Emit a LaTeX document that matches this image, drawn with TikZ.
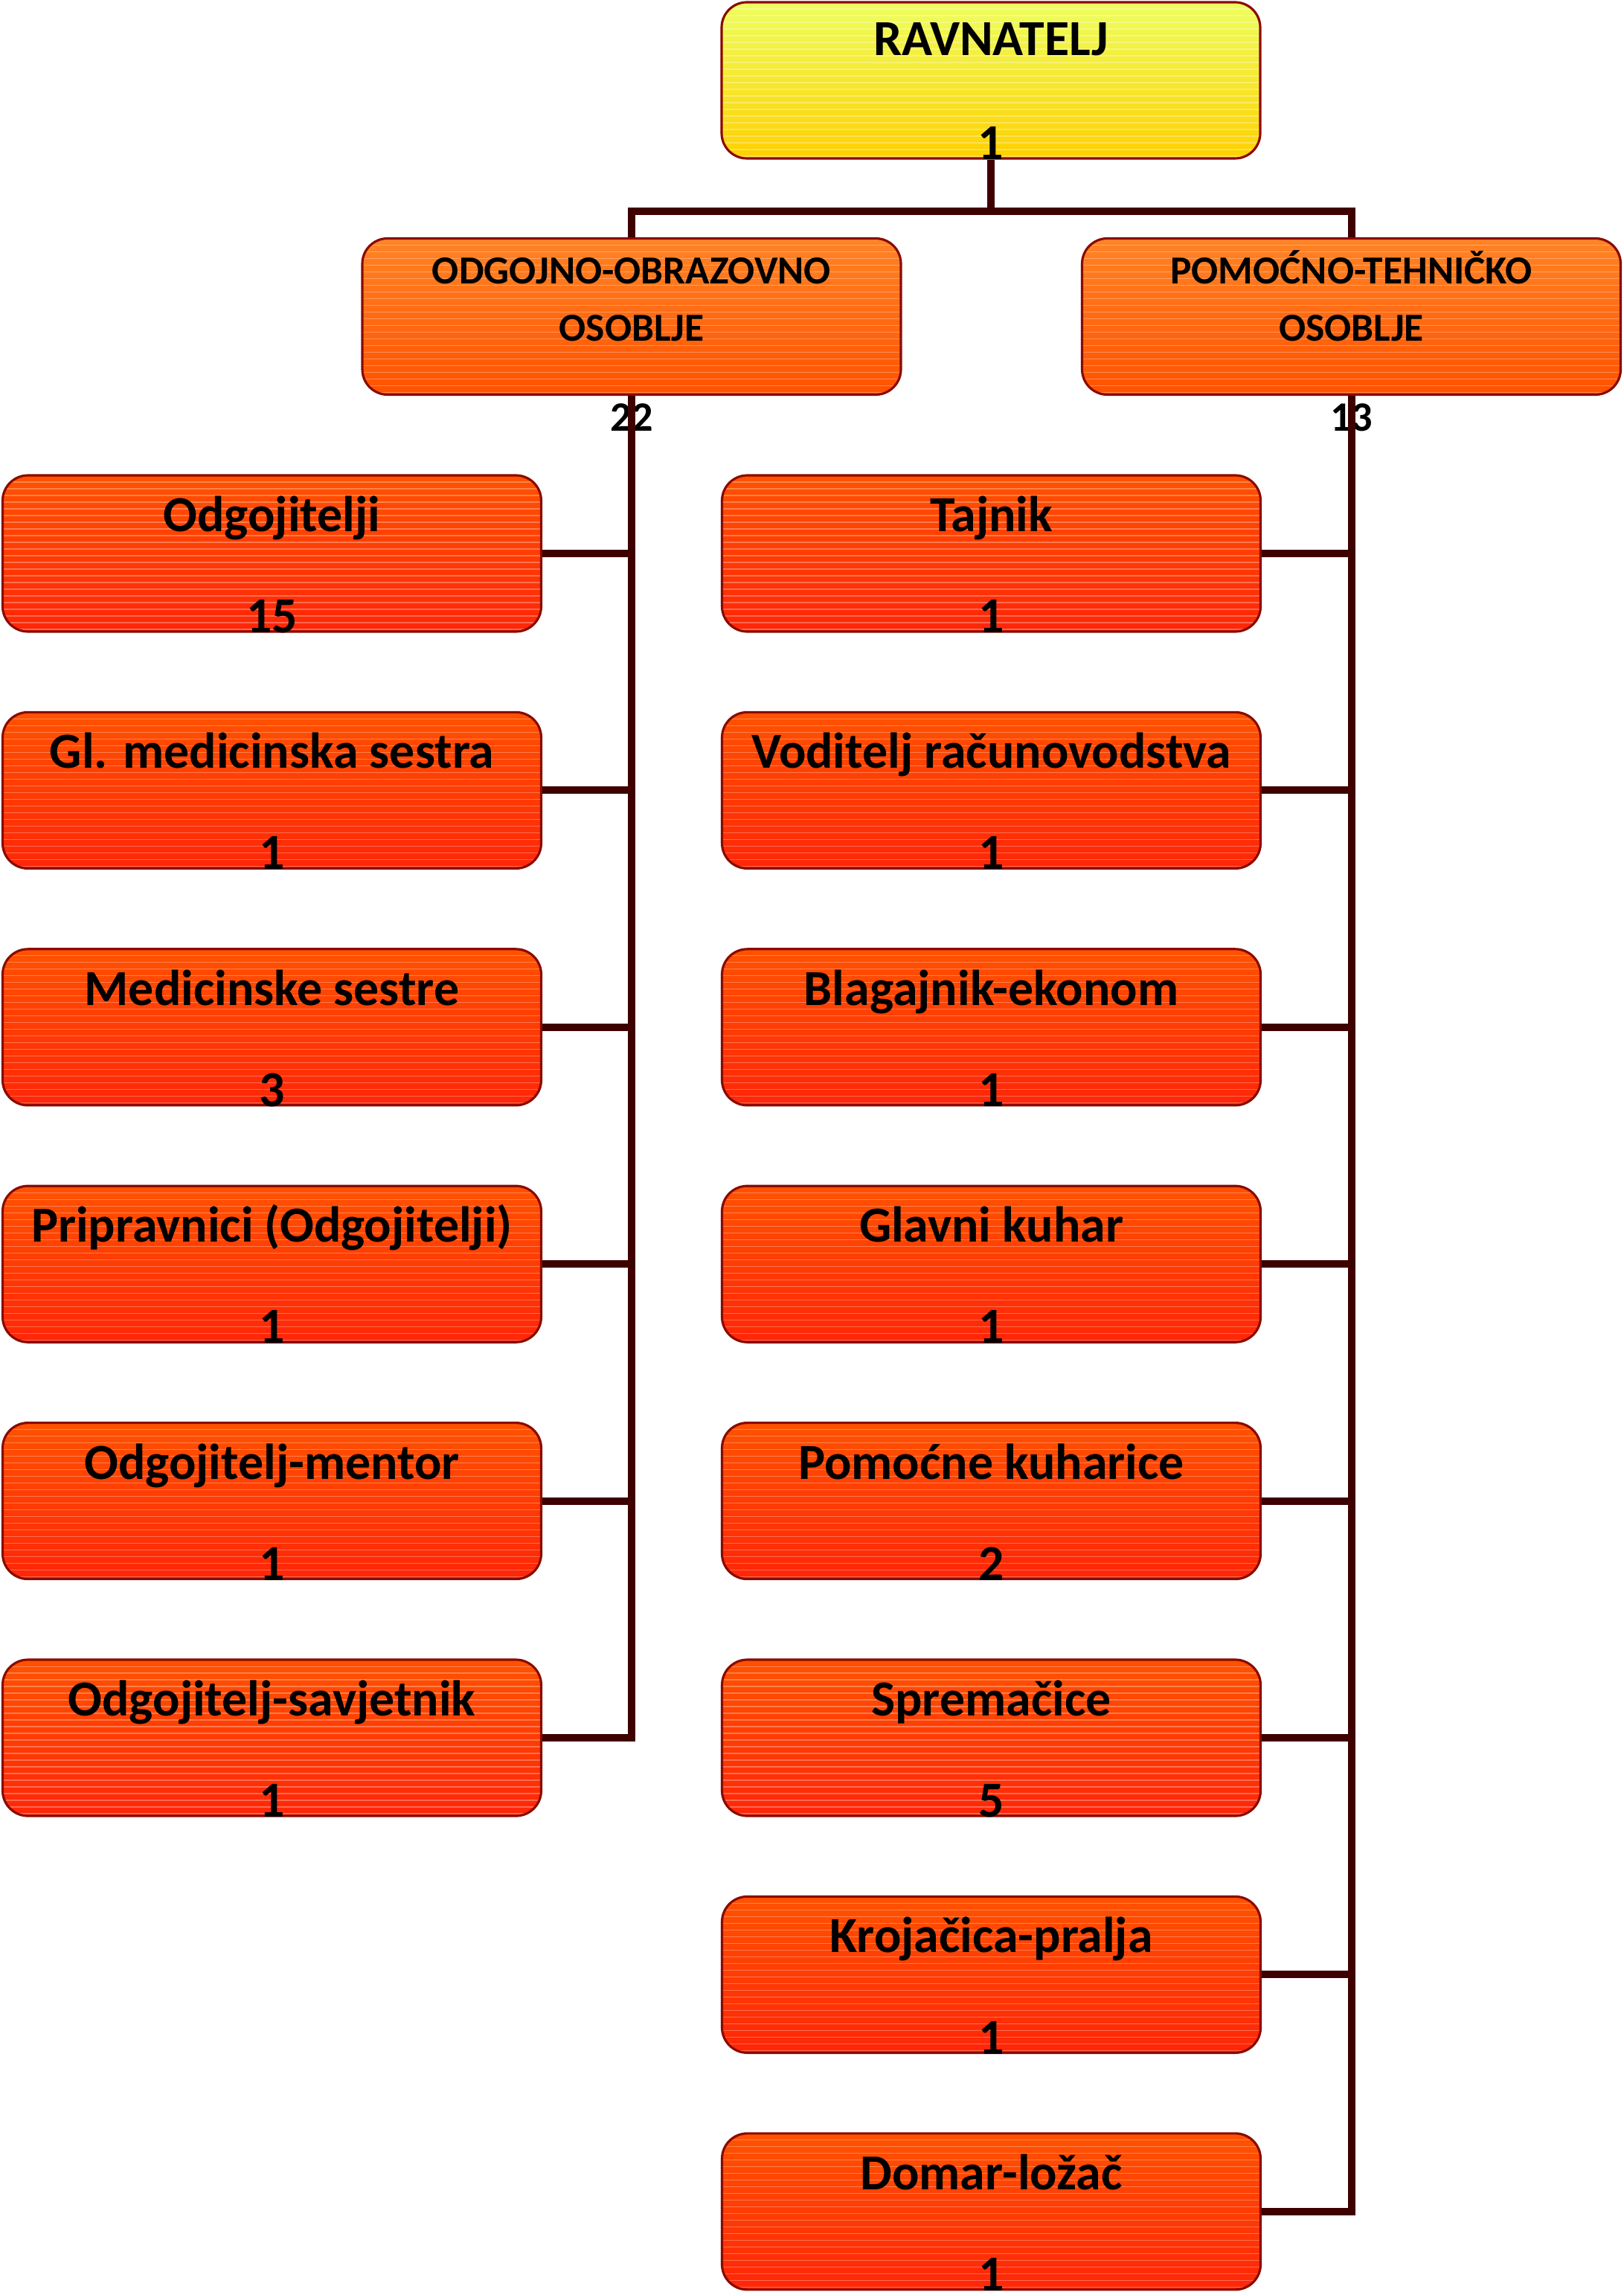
\documentclass[tikz,border=0pt]{standalone}
\usepackage{fontspec}
\setmainfont{Carlito}
\usetikzlibrary{positioning}
\definecolor{linkred}{HTML}{3F0000}
\definecolor{edgered}{HTML}{8B0A00}
\definecolor{rootTop}{HTML}{EEFF5E}
\definecolor{rootBottom}{HTML}{FFD000}
\definecolor{groupTop}{HTML}{FF8426}
\definecolor{groupBottom}{HTML}{FF5200}
\definecolor{staffTop}{HTML}{FF5200}
\definecolor{staffBottom}{HTML}{FF2608}
\tikzset{box/.style={draw=edgered,line width=0.9pt,rounded corners=0.34cm,
   minimum width=7.24cm,minimum height=2.1cm,inner sep=0pt,stripes},
 stripes/.style={path picture={
   \foreach \k in {0.09,0.18,...,2.1}
     \draw[white,opacity=0.3,line width=0.3pt]
       ([yshift=-\k cm]path picture bounding box.north west) --
       ([yshift=-\k cm]path picture bounding box.north east);}},
 rootbox/.style={box,top color=rootTop,bottom color=rootBottom},
 groupbox/.style={box,top color=groupTop,bottom color=groupBottom},
 staffbox/.style={box,top color=staffTop,bottom color=staffBottom},
 title/.style={anchor=base,inner sep=0pt,font=\bfseries\fontsize{19.3}{23}\selectfont},
 grouptitle/.style={anchor=base,inner sep=0pt,font=\bfseries\fontsize{15.2}{18}\selectfont},
 groupcount/.style={anchor=base,inner sep=0pt,font=\bfseries\fontsize{16}{19}\selectfont},
 link/.style={draw=linkred,line width=0.1cm},
 }

\begin{document}
\begin{tikzpicture}
        \useasboundingbox (0,0) rectangle (21.82,-30.81);
        % top
        \node[rootbox] (R) at (13.32,-1.08) {};
        \node[title] (R-t) at ([yshift=-0.73cm]R.north) {RAVNATELJ};
        \node[title] (R-n) at (R.south) {1};
        % groups
        \node[groupbox] (A) at (8.49,-4.255) {};
        \node[grouptitle] (A-t) at ([yshift=-0.63cm]A.north) {ODGOJNO-OBRAZOVNO};
        \node[grouptitle] (A-s) at ([yshift=-1.40cm]A.north) {OSOBLJE};
        \node[groupcount] (A-n) at ([yshift=-0.47cm]A.south) {22};
        \node[groupbox] (B) at (18.165,-4.255) {};
        \node[grouptitle] (B-t) at ([yshift=-0.63cm]B.north) {POMOĆNO-TEHNIČKO};
        \node[grouptitle] (B-s) at ([yshift=-1.40cm]B.north) {OSOBLJE};
        \node[groupcount] (B-n) at ([yshift=-0.47cm]B.south) {13};
        \coordinate (fork) at ([yshift=-0.69cm]R.south);
        \draw[link] (R.south) -- (fork);
        \draw[link] (A.north) |- (fork) -| (B.north);
        % left column
        \foreach \name/\num [count=\i] in {Odgojitelji/15, Gl. medicinska sestra/1,
            Medicinske sestre/3, Pripravnici (Odgojitelji)/1,
            Odgojitelj-mentor/1, Odgojitelj-savjetnik/1} {
            \node[staffbox] (L\i) at (3.655,{-7.44-3.184*(\i-1)}) {};
            \node[title] (L\i-t) at ([yshift=-0.77cm]L\i.north) {\name};
            \node[title] (L\i-n) at (L\i.south) {\num};
            \draw[link] (L\i.east) -- (L\i.east -| A.south);
        }
        \draw[link] (A.south) |- (L6.east);
        % right column
        \foreach \name/\num [count=\i] in {Tajnik/1, Voditelj računovodstva/1,
            Blagajnik-ekonom/1, Glavni kuhar/1, Pomoćne kuharice/2,
            Spremačice/5, Krojačica-pralja/1, Domar-ložač/1} {
            \node[staffbox] (P\i) at (13.325,{-7.44-3.184*(\i-1)}) {};
            \node[title] (P\i-t) at ([yshift=-0.77cm]P\i.north) {\name};
            \node[title] (P\i-n) at (P\i.south) {\num};
            \draw[link] (P\i.east) -- (P\i.east -| B.south);
        }
        \draw[link] (B.south) |- (P8.east);
\end{tikzpicture}
\end{document}
